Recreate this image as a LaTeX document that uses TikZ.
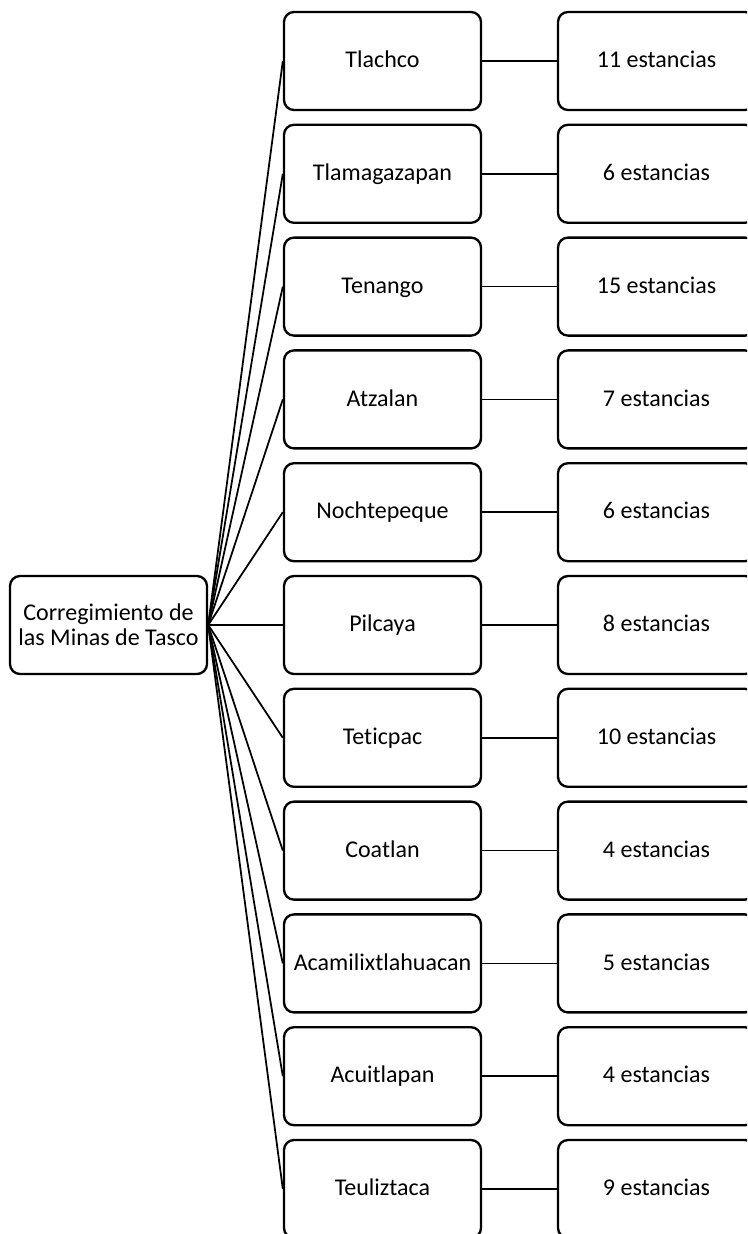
\documentclass[tikz,border=0pt]{standalone}
\usepackage{fontspec}
\setmainfont{Carlito}[Ligatures=NoCommon]
\begin{document}
\begin{tikzpicture}[x=0.03cm, y=-0.03cm,
    caja/.style={draw, line width=2pt, rounded corners=0.3cm, minimum width=5.91cm, minimum height=2.94cm, align=center, inner sep=1pt, font=\fontsize{20.5}{21.5}\selectfont},
    fila/.style={caja, text height=0.5cm, text depth=0.1cm},
    enlace/.style={line width=1.5pt}]
  \clip (0,0) rectangle (747,1234);
  \node[caja] (root) at (108.5,625) {Corregimiento de\\las Minas de Tasco};
  % pueblos y estancias
  \foreach \nombre/\cant [count=\i] in {Tlachco/11, Tlamagazapan/6, Tenango/15, Atzalan/7, Nochtepeque/6, Pilcaya/8, Teticpac/10, Coatlan/4, Acamilixtlahuacan/5, Acuitlapan/4, Teuliztaca/9} {
    \node[fila] (m\i) at (382.5,{61+(\i-1)*112.8}) {\nombre};
    \node[fila] (e\i) at (656.5,{61+(\i-1)*112.8}) {\cant\ estancias};
    \draw[enlace] (root.east) -- (m\i.west);
    \draw[enlace] (m\i) -- (e\i);
  }
\end{tikzpicture}
\end{document}
